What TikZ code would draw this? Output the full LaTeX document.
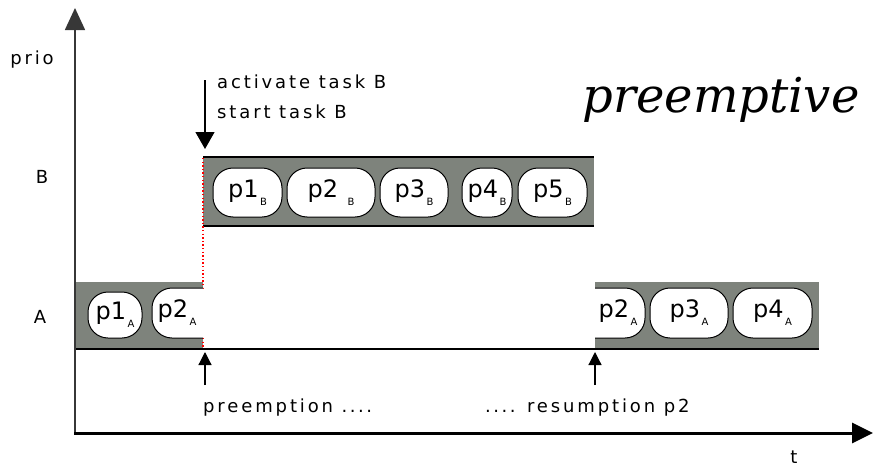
\documentclass[tikz,border=0pt]{standalone}
\usepackage{fontspec}
\setmainfont{DejaVu Sans}
\newfontfamily\titlefont{DejaVu Serif}
\usetikzlibrary{arrows.meta}
\definecolor{bandgray}{RGB}{126,131,124}
\definecolor{axisgray}{RGB}{55,55,55}
\newcommand{\lbltext}{\fontsize{18}{18}\selectfont\addfontfeature{LetterSpace=16}}
\newcommand{\pilltext}{\fontsize{24}{24}\selectfont}
\newcommand{\tsub}[1]{\hspace{1.5pt}\raisebox{-8pt}{\fontsize{10}{10}\selectfont #1}}
\newcommand{\wdots}{.\hspace{2.5pt}.\hspace{2.5pt}.\hspace{2.5pt}.}
\begin{document}
\begin{tikzpicture}[x=1pt,y=-1pt,
  lbl/.style={font=\lbltext, inner sep=0pt},
  pill/.style={draw=black, fill=white, line width=1pt, rounded corners=20pt,
    inner sep=0pt, font=\pilltext},
  pilllbl/.style={inner sep=0pt, font=\pilltext},
  band/.style={fill=bandgray},
  edge/.style={line width=2pt},
  axis/.style={line width=1.6pt, axisgray, -{Triangle[width=20pt,length=22pt]}},
  haxis/.style={line width=3pt, black, -{Triangle[width=20pt,length=21pt]}},
  event/.style={line width=1.2pt, -{Triangle[width=13pt,length=13pt]}},
  switch/.style={red, line width=1.4pt, dash pattern=on 1.4pt off 2.2pt}]
\useasboundingbox (0,0) rectangle (881,471);

% key points
\coordinate (origin) at (75,433);
\coordinate (ytop) at (75,8);
\coordinate (xend) at (873,433);
\coordinate (bTL) at (203,157);
\coordinate (bBR) at (594,226);
\coordinate (a1TL) at (75,282);
\coordinate (a1BR) at (203,349);
\coordinate (a2TL) at (595,282);
\coordinate (a2BR) at (819,349);

% bands of execution
\fill[band] (bTL) rectangle (bBR);
\draw[edge] (203,157) -- (594,157);
\draw[edge] (203,226) -- (594,226);
\fill[band] (a1TL) rectangle (a1BR);
\fill[band] (a2TL) rectangle (a2BR);
\draw[line width=2.6pt] (74,349) -- (819,349);

% context switch marker
\draw[switch] (203,158) -- (203,289);
\draw[switch] (203,338) -- (203,347);

% axes
\draw[axis] (origin) -- (ytop);
\draw[haxis] (74,433) -- (xend);

% task B pieces
\node[pill, minimum width=69pt, minimum height=49pt] (pb1) at (247.5,192.5) {p1\tsub{B}};
\node[pill, minimum width=88pt, minimum height=49pt] (pb2) at (331,192.5) {p2\hspace{8pt}\tsub{B}};
\node[pill, minimum width=68pt, minimum height=49pt] (pb3) at (414,192.5) {p3\tsub{B}};
\node[pill, minimum width=50pt, minimum height=49pt] (pb4) at (487,192.5) {p4\tsub{B}};
\node[pill, minimum width=69pt, minimum height=49pt] (pb5) at (552.5,192.5) {p5\tsub{B}};

% task A pieces
\node[pill, minimum width=54pt, minimum height=46pt] (pa1) at (115,315) {p1\tsub{A}};
\begin{scope}
  \clip (140,270) rectangle (203,345);
  \node[pill, minimum width=100pt, minimum height=50pt] (pa2x) at (202,313) {};
\end{scope}
\node[pilllbl] (pa2) at (177,313) {p2\tsub{A}};
\begin{scope}
  \clip (595,270) rectangle (660,345);
  \node[pill, minimum width=100pt, minimum height=50pt] (pa2y) at (595,313) {};
\end{scope}
\node[pilllbl] (pa2b) at (618,313) {p2\tsub{A}};
\node[pill, minimum width=78pt, minimum height=50pt] (pa3) at (689,313) {p3\tsub{A}};
\node[pill, minimum width=79pt, minimum height=50pt] (pa4) at (772.5,313) {p4\tsub{A}};

% axis labels
\node[lbl] (prio) at (32,60) {prio};
\node[lbl] (lblB) at (42,177) {B};
\node[lbl] (lblA) at (40,317) {A};
\node[lbl, anchor=north] (t) at (794,451) {t};

% events
\node[lbl, anchor=base west] (act) at (217,88) {activate task B};
\node[lbl, anchor=base west] (start) at (217,118) {start task B};
\coordinate (actTail) at (205,80);
\coordinate (actTip) at (205,149);
\draw[event, -{Triangle[width=19pt,length=17pt]}] (actTail) -- (actTip);

\coordinate (preTail) at (205,385);
\coordinate (preTip) at (205,352);
\draw[event] (preTail) -- (preTip);
\node[lbl, anchor=base west] (pre) at (203,412) {preemption \wdots};

\coordinate (resTail) at (595,385);
\coordinate (resTip) at (595,352);
\draw[event] (resTail) -- (resTip);
\node[lbl, anchor=base west] (res) at (485,412) {\wdots{} resumption p2};

% title
\node[inner sep=0pt, font=\titlefont\itshape\fontsize{48}{48}\selectfont] (title) at (721,100) {preemptive};
\end{tikzpicture}
\end{document}
